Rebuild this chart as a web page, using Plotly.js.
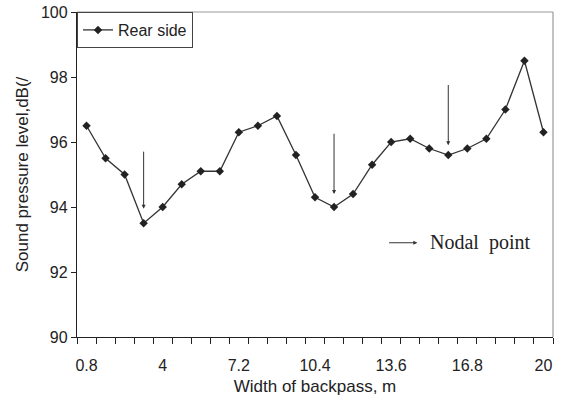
<!DOCTYPE html>
<html>
<head>
<meta charset="utf-8">
<script src="https://cdn.plot.ly/plotly-3.0.1.min.js"></script>
<style>html,body{margin:0;padding:0;background:#fff;}#chart{width:565px;height:401px;}</style>
</head>
<body>
<div id="chart"></div>
<script>
// Width of backpass (m)
const widths = [0.8,1.6,2.4,3.2,4.0,4.8,5.6,6.4,7.2,8.0,8.8,9.6,10.4,11.2,12.0,12.8,13.6,14.4,15.2,16.0,16.8,17.6,18.4,19.2,20.0];
// Sound pressure level, dB(A) - Rear side
const rearSide = [96.5,95.5,95.0,93.5,94.0,94.7,95.1,95.1,96.3,96.5,96.8,95.6,94.3,94.0,94.4,95.3,96.0,96.1,95.8,95.6,95.8,96.1,97.0,98.5,96.3];
const xTickVals = [0.8,4.0,7.2,10.4,13.6,16.8,20.0];
const xTickText = ['0.8','4','7.2','10.4','13.6','16.8','20'];
const yTickVals = [90,92,94,96,98,100];
// Nodal point arrows: x, arrow tail y, arrow head y
const nodalX = [3.2, 11.2, 16.0];
const nodalTail = [95.75, 96.3, 97.8];
const nodalHead = [93.95, 94.4, 95.9];

const font = 'Liberation Sans, Arial, sans-serif';

const trace = {
  x: widths, y: rearSide, type: 'scatter', mode: 'lines+markers',
  name: 'Rear side',
  line: {color: '#333', width: 1.3},
  marker: {symbol: 'diamond', size: 6.5, color: '#222'}
};

const annotations = nodalX.map((x, i) => ({
  x: x, y: nodalHead[i], ax: x, ay: nodalTail[i],
  xref: 'x', yref: 'y', axref: 'x', ayref: 'y',
  text: '', showarrow: true, arrowhead: 2, arrowsize: 0.8, arrowwidth: 1, arrowcolor: '#333'
}));
annotations.push({
  x: 14.7, y: 92.9, ax: 13.45, ay: 92.9, xref: 'x', yref: 'y', axref: 'x', ayref: 'y',
  text: '', showarrow: true, arrowhead: 2, arrowsize: 0.8, arrowwidth: 1, arrowcolor: '#333'
});
annotations.push({
  x: 15.15, y: 92.9, xref: 'x', yref: 'y', xanchor: 'left', yanchor: 'middle',
  text: 'Nodal  point', showarrow: false,
  font: {family: 'Liberation Serif, Times New Roman, serif', size: 20, color: '#222'}
});

const layout = {
  width: 565, height: 401,
  margin: {l: 77, r: 12, t: 12, b: 64},
  paper_bgcolor: '#fff', plot_bgcolor: '#fff',
  showlegend: true,
  legend: {x: 0, y: 1, xanchor: 'left', yanchor: 'top', bgcolor: '#fff',
    bordercolor: '#444', borderwidth: 1, font: {family: font, size: 16, color: '#222'},
    tracegroupgap: 0, itemwidth: 30},
  xaxis: {
    range: [0.4, 20.4], tickvals: xTickVals, ticktext: xTickText,
    ticks: 'outside', ticklen: 0, ticklabelstandoff: 14, showgrid: false, zeroline: false,
    showline: true, linecolor: '#222', linewidth: 1.2,
    minor: {ticks: 'outside', tick0: 0.4, dtick: 0.8, ticklen: 6, tickcolor: '#222', showgrid: false},
    tickfont: {family: font, size: 16, color: '#222'},
    title: {text: 'Width of backpass, m', font: {family: font, size: 17, color: '#222'}, standoff: 6}
  },
  yaxis: {
    range: [90, 100], tickvals: yTickVals, ticks: 'outside', ticklen: 5, tickcolor: '#222',
    showgrid: false, zeroline: false, showline: true, linecolor: '#222', linewidth: 1.2,
    tickfont: {family: font, size: 16, color: '#222'},
    title: {text: 'Sound pressure level,dB(/', font: {family: font, size: 17, color: '#222'}, standoff: 8}
  },
  shapes: [
    {type: 'line', xref: 'paper', yref: 'paper', x0: 0, x1: 1, y0: 1, y1: 1, line: {color: '#999', width: 1.2}},
    {type: 'line', xref: 'paper', yref: 'paper', x0: 1, x1: 1, y0: 0, y1: 1, line: {color: '#999', width: 1.2}}
  ],
  annotations: annotations
};

Plotly.newPlot('chart', [trace], layout, {displayModeBar: false, staticPlot: true});
</script>
</body>
</html>
